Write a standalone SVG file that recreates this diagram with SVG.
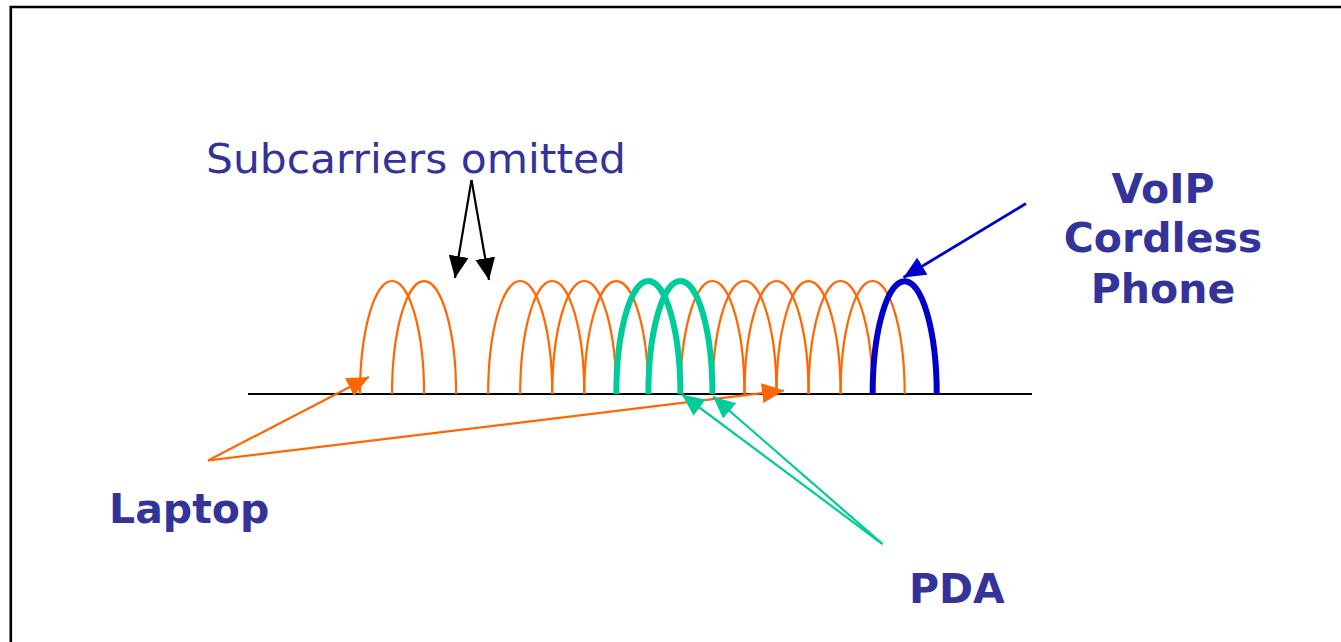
<svg xmlns="http://www.w3.org/2000/svg" width="1341" height="642" viewBox="0 0 1341 642">
<style>
.txt{font-family:"DejaVu Sans",Verdana,sans-serif;fill:#333399;font-size:41px}
.b{font-weight:bold}
.orange{fill:none;stroke:#FF6600;stroke-width:2.2}
.green{fill:none;stroke:#00CC99;stroke-width:6}
.blue{fill:none;stroke:#0000CC;stroke-width:6}
.base{stroke:#000;stroke-width:2}
</style>
<defs>
<marker id="ah-black" markerUnits="userSpaceOnUse" markerWidth="24" markerHeight="20" refX="22" refY="10" orient="auto"><path d="M0,0 L22,10 L0,20 Z" fill="#000"/></marker>
<marker id="ah-orange" markerUnits="userSpaceOnUse" markerWidth="24" markerHeight="20" refX="22" refY="10" orient="auto"><path d="M0,0 L22,10 L0,20 Z" fill="#FF6600"/></marker>
<marker id="ah-green" markerUnits="userSpaceOnUse" markerWidth="24" markerHeight="20" refX="22" refY="10" orient="auto"><path d="M0,0 L22,10 L0,20 Z" fill="#00CC99"/></marker>
<marker id="ah-blue" markerUnits="userSpaceOnUse" markerWidth="24" markerHeight="20" refX="22" refY="10" orient="auto"><path d="M0,0 L22,10 L0,20 Z" fill="#0000CC"/></marker>
</defs>
<rect width="1341" height="642" fill="#fff"/>
<path d="M10.8,650 L10.8,7 L1350,7" fill="none" stroke="#000" stroke-width="2.6"/>

<g id="spectrum">
<line class="base" x1="248" y1="394" x2="1032" y2="394"/>
<g id="laptop-subcarriers">
<path class="orange" d="M360,394 A32.04,113 0 0 1 424.08,394"/>
<path class="orange" d="M392.04,394 A32.04,113 0 0 1 456.12,394"/>
<path class="orange" d="M488.16,394 A32.04,113 0 0 1 552.24,394"/>
<path class="orange" d="M520.2,394 A32.04,113 0 0 1 584.28,394"/>
<path class="orange" d="M552.24,394 A32.04,113 0 0 1 616.32,394"/>
<path class="orange" d="M584.28,394 A32.04,113 0 0 1 648.36,394"/>
<path class="orange" d="M680.4,394 A32.04,113 0 0 1 744.48,394"/>
<path class="orange" d="M712.44,394 A32.04,113 0 0 1 776.52,394"/>
<path class="orange" d="M744.48,394 A32.04,113 0 0 1 808.56,394"/>
<path class="orange" d="M776.52,394 A32.04,113 0 0 1 840.6,394"/>
<path class="orange" d="M808.56,394 A32.04,113 0 0 1 872.64,394"/>
<path class="orange" d="M840.6,394 A32.04,113 0 0 1 904.68,394"/>
</g>
<g id="pda-subcarriers">
<path class="green" d="M616.32,394 A32.04,113 0 0 1 680.4,394"/>
<path class="green" d="M648.36,394 A32.04,113 0 0 1 712.44,394"/>
</g>
<g id="voip-subcarrier">
<path class="blue" d="M872.64,394 A32.04,113 0 0 1 936.72,394"/>
</g>
</g>

<g id="connectors">
<line x1="471.5" y1="180" x2="455" y2="278" stroke="#000" stroke-width="2.2" marker-end="url(#ah-black)"/>
<line x1="471.5" y1="180" x2="489" y2="280" stroke="#000" stroke-width="2.2" marker-end="url(#ah-black)"/>
<line x1="208" y1="460.5" x2="369" y2="377" stroke="#FF6600" stroke-width="2.2" marker-end="url(#ah-orange)"/>
<line x1="208" y1="460.5" x2="784" y2="390.5" stroke="#FF6600" stroke-width="2.2" marker-end="url(#ah-orange)"/>
<line x1="882.5" y1="544" x2="682" y2="394.5" stroke="#00CC99" stroke-width="2.2" marker-end="url(#ah-green)"/>
<line x1="882.5" y1="544" x2="713" y2="396.5" stroke="#00CC99" stroke-width="2.2" marker-end="url(#ah-green)"/>
<line x1="1026" y1="203.5" x2="903.5" y2="277.5" stroke="#0000CC" stroke-width="2.8" marker-end="url(#ah-blue)"/>
</g>

<g id="label-subcarriers"><text class="txt" x="206" y="173" textLength="420" lengthAdjust="spacingAndGlyphs">Subcarriers omitted</text></g>
<g id="label-voip">
<text class="txt b" x="1163" y="203" text-anchor="middle">VoIP</text>
<text class="txt b" x="1163" y="252" text-anchor="middle">Cordless</text>
<text class="txt b" x="1163" y="303" text-anchor="middle">Phone</text>
</g>
<g id="label-laptop"><text class="txt b" x="109" y="523">Laptop</text></g>
<g id="label-pda"><text class="txt b" x="909" y="603">PDA</text></g>
</svg>
